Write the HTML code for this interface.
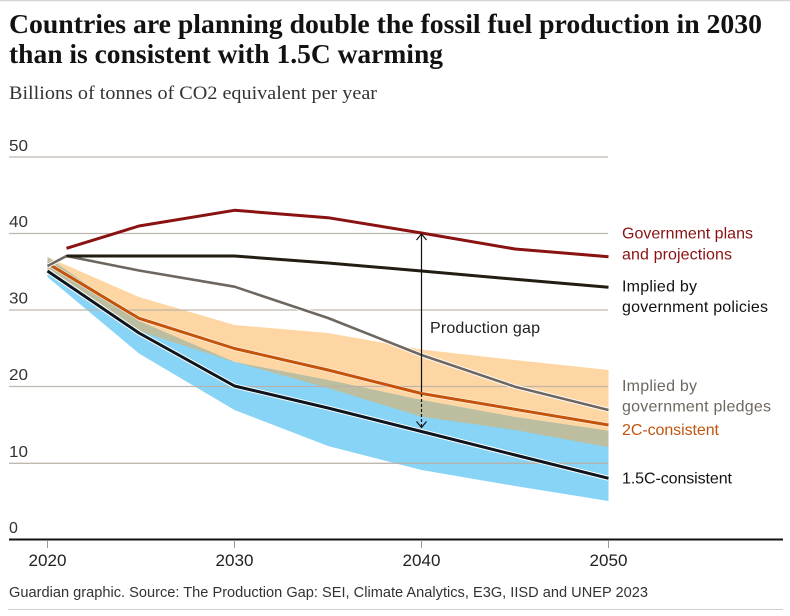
<!DOCTYPE html>
<html>
<head>
<meta charset="utf-8">
<style>
html,body{margin:0;padding:0;background:#fff;}
svg{display:block;}
.sans{font-family:"Liberation Sans",sans-serif;}
.serif{font-family:"Liberation Serif",serif;}
</style>
</head>
<body>
<svg width="790" height="616" viewBox="0 0 790 616" xmlns="http://www.w3.org/2000/svg">
  <rect x="0" y="0" width="790" height="616" fill="#fff"/>
  <line x1="0" y1="0.5" x2="790" y2="0.5" stroke="#d6d6d6" stroke-width="1.5"/>

  <!-- Title -->
  <text class="serif" x="9" y="33" font-size="27" font-weight="bold" fill="#121212" textLength="753" lengthAdjust="spacingAndGlyphs">Countries are planning double the fossil fuel production in 2030</text>
  <text class="serif" x="9" y="63" font-size="27" font-weight="bold" fill="#121212" textLength="434" lengthAdjust="spacingAndGlyphs">than is consistent with 1.5C warming</text>
  <text class="serif" x="9" y="99" font-size="19" fill="#333" textLength="368" lengthAdjust="spacingAndGlyphs">Billions of tonnes of CO2 equivalent per year</text>

  <!-- Bands -->
  <!-- orange (2C range) -->
  <polygon fill="#fdd6a4" points="47.5,257 139,297 234.5,325 328,333 421.5,349.5 515,360 608.5,370 608.5,447.3 515,430 421.5,416.7 328,388 234.5,362 139,331 47.5,271"/>
  <!-- blue (1.5C range) -->
  <polygon fill="#88d4f6" points="47.5,257 139,321 234.5,362 328,380 421.5,400 515,417 608.5,430.7 608.5,501 515,486 421.5,470 328,446 234.5,410 139,353.5 47.5,277"/>
  <!-- overlap (olive) -->
  <polygon fill="#bcbe9f" points="47.5,257 139,321 234.5,362 328,380 421.5,400 515,417 608.5,430.7 608.5,447.3 515,430 421.5,416.7 328,388 234.5,362 139,331 47.5,271"/>

  <!-- Gridlines -->
  <g stroke="#b9b1a6" stroke-width="1.3" opacity="0.9">
    <line x1="9" y1="157" x2="608" y2="157"/>
    <line x1="9" y1="233.5" x2="608" y2="233.5"/>
    <line x1="9" y1="310" x2="608" y2="310"/>
    <line x1="9" y1="386.5" x2="608" y2="386.5"/>
    <line x1="9" y1="463.3" x2="608" y2="463.3"/>
  </g>

  <!-- Y labels -->
  <g class="sans" font-size="16" fill="#333">
    <text x="9" y="151" textLength="19" lengthAdjust="spacingAndGlyphs">50</text>
    <text x="9" y="227" textLength="19" lengthAdjust="spacingAndGlyphs">40</text>
    <text x="9" y="303.5" textLength="19" lengthAdjust="spacingAndGlyphs">30</text>
    <text x="9" y="380" textLength="19" lengthAdjust="spacingAndGlyphs">20</text>
    <text x="9" y="457" textLength="19" lengthAdjust="spacingAndGlyphs">10</text>
    <text x="9" y="533">0</text>
  </g>

  <!-- 1.5C line -->
  <polyline fill="none" stroke="#fff" stroke-width="5" stroke-linejoin="round" points="47.5,271 139,333 234.5,386 328,408 421.5,431.5 515,455 608.5,478.3"/>
  <polyline fill="none" stroke="#0d1620" stroke-width="3" stroke-linejoin="round" points="47.5,271 139,333 234.5,386 328,408 421.5,431.5 515,455 608.5,478.3"/>

  <!-- 2C line -->
  <polyline fill="none" stroke="#fff" stroke-width="4.5" stroke-linejoin="round" opacity="0.6" points="47.5,263.3 139,318.3 234.5,348.5 328,370 421.5,393.5 515,409.3 608.5,425"/>
  <polyline fill="none" stroke="#c4530c" stroke-width="3" stroke-linejoin="round" points="47.5,263.3 139,318.3 234.5,348.5 328,370 421.5,393.5 515,409.3 608.5,425"/>

  <!-- Pledges line -->
  <polyline fill="none" stroke="#fff" stroke-width="4.5" stroke-linejoin="round" points="47.5,266 66.5,256 139,270.5 234.5,286.7 328,318 421.5,355 515,386.7 608.5,410"/>
  <polyline fill="none" stroke="#6e6760" stroke-width="2.6" stroke-linejoin="round" points="47.5,266 66.5,256 139,270.5 234.5,286.7 328,318 421.5,355 515,386.7 608.5,410"/>

  <!-- Policies line -->
  <polyline fill="none" stroke="#221c12" stroke-width="3" stroke-linejoin="round" points="66.5,256 234.5,256 328,263 421.5,271 515,279.3 608.5,287.3"/>

  <!-- Government plans line -->
  <polyline fill="none" stroke="#8a1212" stroke-width="3" stroke-linejoin="round" points="66.5,248.3 139,226 234.5,210.3 328,217.7 421.5,233 515,249 608.5,256.7"/>

  <!-- Production gap arrow -->
  <line x1="421.5" y1="234.5" x2="421.5" y2="389" stroke="#111" stroke-width="1.2"/>
  <line x1="421.5" y1="389" x2="421.5" y2="427" stroke="#111" stroke-width="1.2" stroke-dasharray="3,2"/>
  <polyline fill="none" stroke="#111" stroke-width="1.2" points="416.5,240 421.5,234 426.5,240"/>
  <polyline fill="none" stroke="#111" stroke-width="1.2" points="416.5,421.5 421.5,427.5 426.5,421.5"/>
  <text class="sans" x="430" y="333" font-size="16" fill="#222" textLength="110" lengthAdjust="spacing">Production gap</text>

  <!-- Legend labels -->
  <g class="sans" font-size="16">
    <text x="622" y="238.5" fill="#8a1212" textLength="131" lengthAdjust="spacing">Government plans</text>
    <text x="622" y="259.5" fill="#8a1212" textLength="110" lengthAdjust="spacing">and projections</text>
    <text x="622" y="291.5" fill="#121212" textLength="75" lengthAdjust="spacing">Implied by</text>
    <text x="622" y="312" fill="#121212" textLength="146" lengthAdjust="spacing">government policies</text>
    <text x="622" y="391" fill="#6e6760" textLength="75" lengthAdjust="spacing">Implied by</text>
    <text x="622" y="411.5" fill="#6e6760" textLength="149" lengthAdjust="spacing">government pledges</text>
    <text x="622" y="435" fill="#c0550f" textLength="97" lengthAdjust="spacing">2C-consistent</text>
    <text x="622" y="483.5" fill="#121212" textLength="110" lengthAdjust="spacing">1.5C-consistent</text>
  </g>

  <!-- X axis -->
  <line x1="9" y1="539.5" x2="783" y2="539.5" stroke="#121212" stroke-width="2"/>
  <g stroke="#9a9a9a" stroke-width="1">
    <line x1="47.5" y1="541" x2="47.5" y2="548"/>
    <line x1="234.5" y1="541" x2="234.5" y2="548"/>
    <line x1="421.5" y1="541" x2="421.5" y2="548"/>
    <line x1="608.5" y1="541" x2="608.5" y2="548"/>
  </g>
  <g class="sans" font-size="16.5" fill="#222" text-anchor="middle">
    <text x="47.5" y="566" textLength="38" lengthAdjust="spacingAndGlyphs">2020</text>
    <text x="234.5" y="566" textLength="38" lengthAdjust="spacingAndGlyphs">2030</text>
    <text x="421.5" y="566" textLength="38" lengthAdjust="spacingAndGlyphs">2040</text>
    <text x="608.5" y="566" textLength="38" lengthAdjust="spacingAndGlyphs">2050</text>
  </g>

  <!-- Footer -->
  <text class="sans" x="9" y="597" font-size="14.5" fill="#333" textLength="639" lengthAdjust="spacingAndGlyphs">Guardian graphic. Source: The Production Gap: SEI, Climate Analytics, E3G, IISD and UNEP 2023</text>
  <line x1="8" y1="609.5" x2="783" y2="609.5" stroke="#cfcfcf" stroke-width="1"/>
</svg>
</body>
</html>
